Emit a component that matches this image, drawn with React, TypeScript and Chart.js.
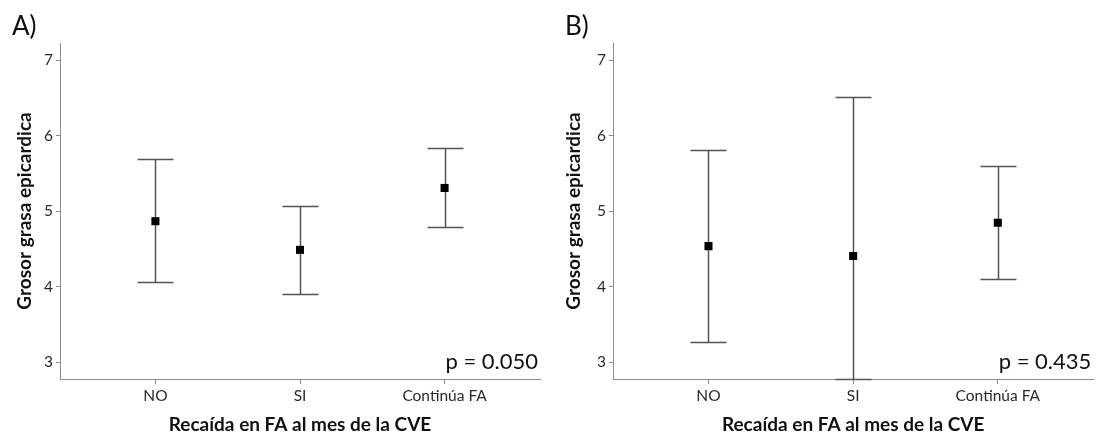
import React, { useEffect, useRef } from "react";
import { Chart, registerables } from "chart.js";

Chart.register(...registerables);

const categories = ["NO", "SI", "Continúa FA"];
const yTickValues = [3, 4, 5, 6, 7];
const meansA = [4.87, 4.49, 5.31];
const lowerA = [4.06, 3.9, 4.79];
const upperA = [5.69, 5.07, 5.84];
const meansB = [4.54, 4.41, 4.85];
const lowerB = [3.27, 2.78, 4.11];
const upperB = [5.81, 6.52, 5.6];
const panelLabels = ["A)", "B)"];
const pTexts = ["p = 0.050", "p = 0.435"];
const yTitle = "Grosor grasa epicardica";
const xTitle = "Recaída en FA al mes de la CVE";

const FONT = "Lato, 'Open Sans', sans-serif";
const AXIS_COLOR = "#8c8c8c";

type PanelProps = {
  means: number[];
  lower: number[];
  upper: number[];
  label: string;
  pText: string;
  left: number;
  width: number;
  yWidth: number;
  padRight: number;
};

function Panel({ means, lower, upper, label, pText, left, width, yWidth, padRight }: PanelProps) {
  const ref = useRef<HTMLCanvasElement | null>(null);
  useEffect(() => {
    if (!ref.current) return;
    const errorBars = {
      id: "errorBars",
      beforeDatasetsDraw(chart: any) {
        const { ctx, scales } = chart;
        const x = scales.x;
        const y = scales.y;
        ctx.save();
        ctx.strokeStyle = "#555";
        ctx.lineWidth = 1.5;
        means.forEach((_, i) => {
          const px = Math.round(x.getPixelForValue(i)) + 0.5;
          const yl = Math.round(y.getPixelForValue(lower[i])) + 0.5;
          const yu = Math.round(y.getPixelForValue(upper[i])) + 0.5;
          ctx.beginPath();
          ctx.moveTo(px, yu);
          ctx.lineTo(px, yl);
          ctx.moveTo(px - 18, yu);
          ctx.lineTo(px + 18, yu);
          ctx.moveTo(px - 18, yl);
          ctx.lineTo(px + 18, yl);
          ctx.stroke();
        });
        ctx.restore();
      },
      afterDraw(chart: any) {
        const { ctx, chartArea } = chart;
        ctx.save();
        ctx.fillStyle = "#111";
        ctx.textBaseline = "alphabetic";
        ctx.textAlign = "left";
        ctx.font = `26px ${FONT}`;
        ctx.fillText(label, chartArea.left - 48, 35);
        ctx.textAlign = "right";
        ctx.font = `22px ${FONT}`;
        ctx.fillText(pText, chartArea.right - 2, 369);
        ctx.restore();
      },
    };
    const chart = new Chart(ref.current, {
      type: "scatter",
      data: {
        datasets: [
          {
            data: means.map((m, i) => ({ x: i, y: m })),
            pointStyle: "rect",
            pointRadius: 5.7,
            pointHoverRadius: 5.7,
            backgroundColor: "#000",
            borderWidth: 0,
          },
        ],
      },
      options: {
        animation: false,
        responsive: false,
        events: [],
        layout: { padding: { top: 43, right: padRight, bottom: 0, left: 0 } },
        plugins: { legend: { display: false }, tooltip: { enabled: false } },
        scales: {
          x: {
            type: "linear",
            min: -0.66,
            max: 2.66,
            afterBuildTicks: (s: any) => {
              s.ticks = categories.map((_, i) => ({ value: i }));
            },
            afterFit: (s: any) => {
              s.height = 59;
            },
            ticks: {
              autoSkip: false,
              maxRotation: 0,
              padding: 3,
              color: "#2a2a2a",
              font: { family: FONT, size: 15.5 },
              callback: (v: any) => categories[Math.round(Number(v))],
            },
            grid: { drawOnChartArea: false, drawTicks: true, tickLength: 5, color: AXIS_COLOR },
            border: { display: true, color: AXIS_COLOR, width: 1 },
            title: {
              display: true,
              text: xTitle,
              color: "#111",
              font: { family: FONT, size: 19, weight: "bold" },
              padding: { top: 0, bottom: 1.6 },
            },
          },
          y: {
            type: "linear",
            min: 2.78,
            max: 7.23,
            afterBuildTicks: (s: any) => {
              s.ticks = yTickValues.map((v) => ({ value: v }));
            },
            afterFit: (s: any) => {
              s.width = yWidth;
            },
            ticks: {
              padding: 3,
              color: "#2a2a2a",
              font: { family: FONT, size: 15.5 },
            },
            grid: { drawOnChartArea: false, drawTicks: true, tickLength: 4, color: AXIS_COLOR },
            border: { display: true, color: AXIS_COLOR, width: 1 },
            title: {
              display: true,
              text: yTitle,
              color: "#111",
              font: { family: FONT, size: 19, weight: "bold" },
              padding: { top: 13.6, bottom: 0 },
            },
          },
        },
      },
      plugins: [errorBars],
    });
    return () => chart.destroy();
  }, []);
  return (
    <canvas
      ref={ref}
      width={width}
      height={438}
      style={{ position: "absolute", left, top: 0, width, height: 438 }}
    />
  );
}

export default function App() {
  return (
    <div style={{ position: "fixed", left: 0, top: 0, width: 1099, height: 438, background: "#fff" }}>
      <Panel means={meansA} lower={lowerA} upper={upperA} label={panelLabels[0]} pText={pTexts[0]}
        left={0} width={549} yWidth={60} padRight={9} />
      <Panel means={meansB} lower={lowerB} upper={upperB} label={panelLabels[1]} pText={pTexts[1]}
        left={549} width={550} yWidth={64} padRight={3} />
    </div>
  );
}
